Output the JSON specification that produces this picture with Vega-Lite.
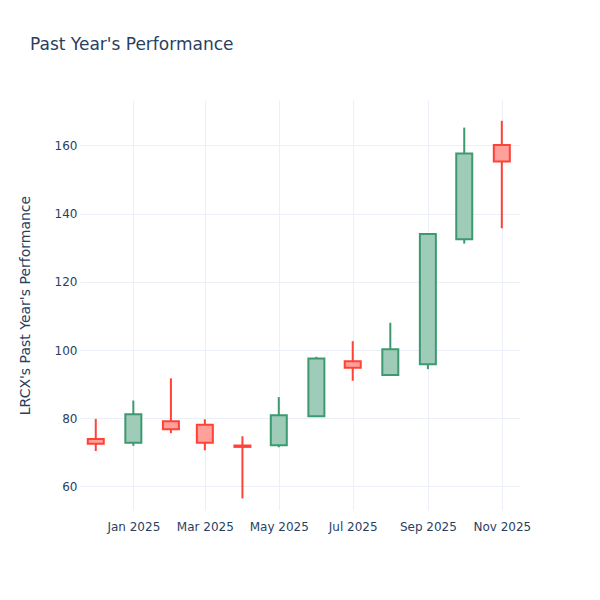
{
  "$schema": "https://vega.github.io/schema/vega-lite/v6.json",
  "width": 440,
  "height": 410,
  "autosize": {"type": "none"},
  "padding": {"left": 80, "top": 100, "right": 80, "bottom": 90},
  "background": "white",
  "config": {
    "view": {"stroke": null},
    "font": "DejaVu Sans"
  },
  "title": {
    "text": "Past Year's Performance",
    "anchor": "start",
    "frame": "group",
    "dx": -50,
    "offset": 46,
    "fontSize": 17,
    "fontWeight": "normal",
    "font": "DejaVu Sans",
    "color": "#2a3f5f"
  },
  "data": {
    "values": [
      {"date": "2024-12-01", "open": 73.9, "high": 79.8, "low": 70.4, "close": 72.5, "dir": "down"},
      {"date": "2025-01-01", "open": 72.8, "high": 85.2, "low": 71.9, "close": 81.2, "dir": "up"},
      {"date": "2025-02-01", "open": 79.1, "high": 91.7, "low": 75.6, "close": 76.8, "dir": "down"},
      {"date": "2025-03-01", "open": 78.1, "high": 79.7, "low": 70.6, "close": 72.8, "dir": "down"},
      {"date": "2025-04-01", "open": 72.0, "high": 74.7, "low": 56.5, "close": 71.6, "dir": "down"},
      {"date": "2025-05-01", "open": 72.1, "high": 86.2, "low": 71.5, "close": 80.9, "dir": "up"},
      {"date": "2025-06-01", "open": 80.6, "high": 98.0, "low": 80.6, "close": 97.5, "dir": "up"},
      {"date": "2025-07-01", "open": 96.7, "high": 102.6, "low": 91.0, "close": 94.8, "dir": "down"},
      {"date": "2025-08-01", "open": 92.7, "high": 108.0, "low": 92.6, "close": 100.2, "dir": "up"},
      {"date": "2025-09-01", "open": 95.8, "high": 134.2, "low": 94.4, "close": 134.0, "dir": "up"},
      {"date": "2025-10-01", "open": 132.5, "high": 165.2, "low": 131.2, "close": 157.6, "dir": "up"},
      {"date": "2025-11-01", "open": 160.1, "high": 167.2, "low": 135.7, "close": 155.3, "dir": "down"}
    ]
  },
  "encoding": {
    "x": {
      "field": "date",
      "type": "temporal",
      "scale": {
        "type": "utc",
        "padding": 0,
        "domain": [
          {"year": 2024, "month": 11, "date": 18, "utc": true},
          {"year": 2025, "month": 11, "date": 16, "utc": true}
        ]
      },
      "axis": {
        "title": null,
        "format": "%b %Y",
        "values": [
          {"year": 2025, "month": 1, "date": 1, "utc": true},
          {"year": 2025, "month": 3, "date": 1, "utc": true},
          {"year": 2025, "month": 5, "date": 1, "utc": true},
          {"year": 2025, "month": 7, "date": 1, "utc": true},
          {"year": 2025, "month": 9, "date": 1, "utc": true},
          {"year": 2025, "month": 11, "date": 1, "utc": true}
        ],
        "domain": false,
        "ticks": false,
        "labelPadding": 11,
        "labelFontSize": 12,
        "labelColor": "#2a3f5f",
        "labelFont": "DejaVu Sans",
        "gridColor": "#EBF0F8",
        "gridWidth": 1
      }
    },
    "y": {
      "type": "quantitative",
      "scale": {"domain": [53.1, 173.3], "nice": false, "zero": false},
      "axis": {
        "title": "LRCX's Past Year's Performance",
        "values": [60, 80, 100, 120, 140, 160],
        "domain": false,
        "ticks": false,
        "labelPadding": 3,
        "labelFontSize": 12,
        "labelColor": "#2a3f5f",
        "labelFont": "DejaVu Sans",
        "titleFontSize": 14,
        "titleFont": "DejaVu Sans",
        "titleFontWeight": "normal",
        "titleColor": "#2a3f5f",
        "titlePadding": 22,
        "gridColor": "#EBF0F8",
        "gridWidth": 1
      }
    }
  },
  "layer": [
    {
      "mark": {"type": "rule", "strokeWidth": 2},
      "encoding": {
        "y": {"field": "low", "type": "quantitative"},
        "y2": {"field": "high"},
        "color": {
          "field": "dir",
          "type": "nominal",
          "scale": {"domain": ["up", "down"], "range": ["#3D9970", "#FF4136"]},
          "legend": null
        }
      }
    },
    {
      "mark": {"type": "bar", "size": 16, "strokeWidth": 2},
      "encoding": {
        "y": {"field": "open", "type": "quantitative"},
        "y2": {"field": "close"},
        "fill": {
          "field": "dir",
          "type": "nominal",
          "scale": {"domain": ["up", "down"], "range": ["#9ECCB8", "#FFA09B"]},
          "legend": null
        },
        "stroke": {
          "field": "dir",
          "type": "nominal",
          "scale": {"domain": ["up", "down"], "range": ["#3D9970", "#FF4136"]},
          "legend": null
        },
        "fillOpacity": {"value": 1}
      }
    }
  ]
}
